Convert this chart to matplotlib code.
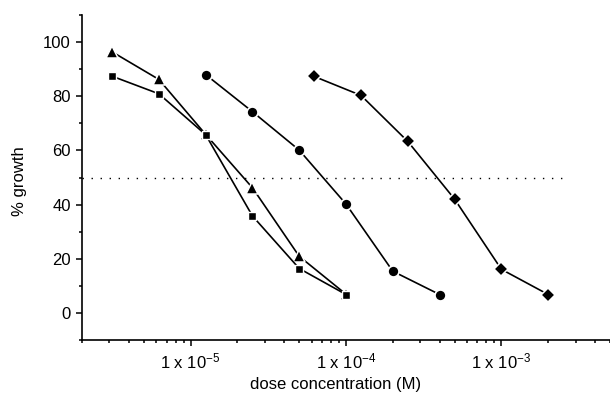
import matplotlib
matplotlib.use('Agg')
import matplotlib.pyplot as plt
from matplotlib.ticker import FixedLocator, NullFormatter

plt.rcParams['font.family'] = ['Liberation Sans', 'DejaVu Sans']
plt.rcParams['mathtext.fontset'] = 'custom'
plt.rcParams['mathtext.rm'] = 'Liberation Sans'
plt.rcParams['mathtext.it'] = 'Liberation Sans:italic'

# ---- data ----
dose_a = [3.125e-6, 6.25e-6, 1.25e-5, 2.5e-5, 5e-5, 1e-4]
growth_tri = [96.4, 86.2, 65.9, 46.2, 20.9, 6.9]
growth_sq = [87.4, 80.9, 65.8, 35.8, 16.4, 6.8]
dose_c = [1.25e-5, 2.5e-5, 5e-5, 1e-4, 2e-4, 4e-4]
growth_circ = [88.0, 74.3, 60.1, 40.2, 15.4, 6.8]
dose_d = [6.25e-5, 1.25e-4, 2.5e-4, 5e-4, 1e-3, 2e-3]
growth_dia = [87.3, 80.3, 63.3, 42.0, 16.1, 6.8]
ref_x = [2e-6, 2.5e-3]
ref_y = [50, 50]
xticks_major = [1e-5, 1e-4, 1e-3]
xtick_labels = ['1 x 10$^{-5}$', '1 x 10$^{-4}$', '1 x 10$^{-3}$']
yticks_major = [0, 20, 40, 60, 80, 100]

fig = plt.figure(figsize=(6.1, 3.96), dpi=100)
ax = fig.add_axes([82/610, 56/396, 528/610, 325/396])

ax.plot(ref_x, ref_y, color='black', lw=1.0, linestyle=(0, (1, 5.5)), zorder=1)

common = dict(color='black', lw=1.2, mfc='black', mec='white', zorder=3)
ax.plot(dose_a, growth_tri, marker='^', ms=9.2, mew=1.1, **common)
ax.plot(dose_a, growth_sq, marker='s', ms=6.2, mew=1.0, **common)
ax.plot(dose_c, growth_circ, marker='o', ms=7.9, mew=1.2, **common)
ax.plot(dose_d, growth_dia, marker='D', ms=7.2, mew=1.1, **common)

ax.set_xscale('log')
ax.set_xlim(2e-6, 5e-3)
ax.set_ylim(-10, 110)

ax.xaxis.set_major_locator(FixedLocator(xticks_major))
ax.set_xticklabels(xtick_labels)
minor_x = [k * 10.0**n for n in range(-6, -2) for k in range(2, 10)]
minor_x = [v for v in minor_x if 2e-6 * 0.999 <= v <= 5e-3 * 1.001]
ax.xaxis.set_minor_locator(FixedLocator(minor_x))
ax.xaxis.set_minor_formatter(NullFormatter())

ax.yaxis.set_major_locator(FixedLocator(yticks_major))
ax.yaxis.set_minor_locator(FixedLocator([-10, 10, 30, 50, 70, 90, 110]))

for s in ['top', 'right']:
    ax.spines[s].set_visible(False)
for s in ['left', 'bottom']:
    ax.spines[s].set_linewidth(1.2)

ax.tick_params(axis='both', which='major', length=4, width=1.1, direction='out',
               pad=4, labelsize=12, colors='black')
ax.tick_params(axis='both', which='minor', length=2, width=1.1, direction='out')

ax.set_xlabel('dose concentration (M)', fontsize=12)
ax.set_ylabel('% growth', fontsize=12)
ax.xaxis.set_label_coords(0.481, -0.115)
ax.yaxis.set_label_coords(-0.104, 0.489)

fig.savefig('out.png', dpi=100)
